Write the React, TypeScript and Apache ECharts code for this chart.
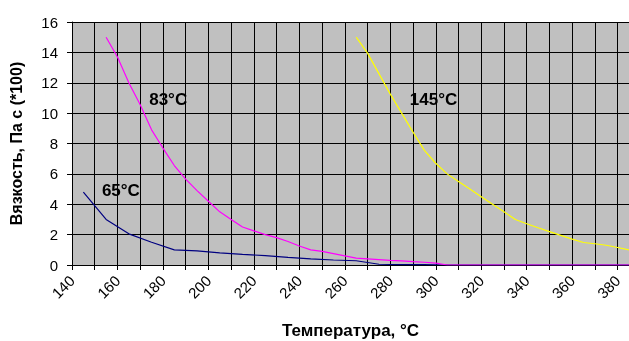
import React, { useEffect, useRef } from "react";
import * as echarts from "echarts";

// Temperature, °C (x) and viscosity, Pa·s (*100) (y)
const temps65 = [145, 155, 165, 175, 185, 195, 205, 215, 225, 235, 245, 255, 265, 275, 285, 295, 305, 315, 325, 335, 345, 355, 365, 375, 385];
const visc65 = [4.8, 3.0, 2.05, 1.5, 1.0, 0.93, 0.8, 0.7, 0.62, 0.5, 0.4, 0.33, 0.28, 0.05, 0.03, 0.02, 0, 0, 0, 0, 0, 0, 0, 0, 0];

const temps83 = [155, 160, 165, 170, 175, 180, 185, 190, 195, 200, 205, 210, 215, 220, 225, 230, 235, 240, 245, 250, 255, 260, 265, 270, 275, 280, 285, 290, 295, 300, 305, 315, 325, 335, 345, 355, 365, 375, 385];
const visc83 = [15, 13.7, 12, 10.55, 8.9, 7.7, 6.55, 5.65, 4.9, 4.2, 3.5, 3.0, 2.5, 2.25, 2.0, 1.8, 1.55, 1.25, 1.0, 0.9, 0.75, 0.6, 0.45, 0.4, 0.35, 0.3, 0.27, 0.22, 0.18, 0.12, 0, 0, 0, 0, 0, 0, 0, 0, 0];

const temps145 = [265, 270, 275, 280, 285, 290, 295, 300, 305, 310, 315, 320, 325, 330, 335, 340, 345, 350, 355, 360, 365, 370, 375, 380, 385];
const visc145 = [15, 13.95, 12.6, 11.25, 10.0, 8.75, 7.55, 6.7, 6.0, 5.5, 5.0, 4.5, 4.0, 3.5, 3.0, 2.72, 2.45, 2.2, 1.95, 1.7, 1.48, 1.4, 1.3, 1.15, 1.0];

const seriesNames = ["65°C", "83°C", "145°C"];
const seriesColors = ["#000080", "#FF00FF", "#FFFF00"];
// label anchor positions in data space [temperature, viscosity]
const labelPos: [number, number][] = [
  [161.5, 4.9],
  [182.3, 10.9],
  [299, 10.9],
];

const xMin = 140;
const xMax = 385;
const xStep = 10;
const yMin = 0;
const yMax = 16;
const yStep = 2;

const xTitle = "Температура, °C";
const yTitle = "Вязкость, Па с (*100)";

function zip(xs: number[], ys: number[]) {
  return xs.map((x, i) => [x, ys[i]]);
}

export default function App() {
  const ref = useRef<HTMLDivElement>(null);
  useEffect(() => {
    if (!ref.current) return;
    const chart = echarts.init(ref.current, null, { renderer: "svg" });
    const datasets = [zip(temps65, visc65), zip(temps83, visc83), zip(temps145, visc145)];
    const font = "Arial, 'Liberation Sans', sans-serif";
    chart.setOption({
      animation: false,
      textStyle: { fontFamily: font },
      grid: {
        left: 72,
        top: 22,
        right: 0,
        bottom: 76,
        containLabel: false,
        outerBoundsMode: "none",
        show: true,
        backgroundColor: "#C0C0C0",
        borderWidth: 0,
      },
      xAxis: {
        type: "value",
        min: xMin,
        max: xMax,
        interval: xStep,
        name: xTitle,
        nameLocation: "middle",
        nameGap: 57,
        nameTextStyle: { fontSize: 17, fontWeight: "bold", color: "#000", fontFamily: font },
        axisLine: { show: true, onZero: false, lineStyle: { color: "#000", width: 1 } },
        axisTick: { show: true, length: 5, lineStyle: { color: "#000" } },
        axisLabel: {
          rotate: 45,
          fontSize: 15,
          color: "#000",
          margin: 13,
          fontFamily: font,
          formatter: (v: number) => (v % 20 === 0 ? String(v) : ""),
        },
        splitLine: { show: true, lineStyle: { color: "#000", width: 1 } },
      },
      yAxis: {
        type: "value",
        min: yMin,
        max: yMax,
        interval: yStep,
        name: yTitle,
        nameLocation: "middle",
        nameGap: 48,
        nameTextStyle: { fontSize: 16, fontWeight: "bold", color: "#000", fontFamily: font },
        axisLine: { show: true, lineStyle: { color: "#000", width: 1 } },
        axisTick: { show: true, length: 5, lineStyle: { color: "#000" } },
        axisLabel: { fontSize: 15, color: "#000", margin: 14, fontFamily: font },
        splitLine: { show: true, lineStyle: { color: "#000", width: 1 } },
      },
      series: datasets.map((d, i) => ({
        type: "line",
        name: seriesNames[i],
        data: d,
        showSymbol: false,
        symbol: "none",
        lineStyle: { color: seriesColors[i], width: 1.2 },
        z: 2 + i,
        markPoint: {
          symbol: "circle",
          symbolSize: 0,
          data: [{ coord: labelPos[i], value: seriesNames[i] }],
          label: {
            show: true,
            position: "inside",
            formatter: seriesNames[i],
            fontSize: 17,
            fontWeight: "bold",
            color: "#000",
            fontFamily: font,
          },
        },
      })),
    });
    return () => chart.dispose();
  }, []);
  return (
    <div
      ref={ref}
      style={{ position: "fixed", left: 0, top: 0, width: 629, height: 341 }}
    />
  );
}
